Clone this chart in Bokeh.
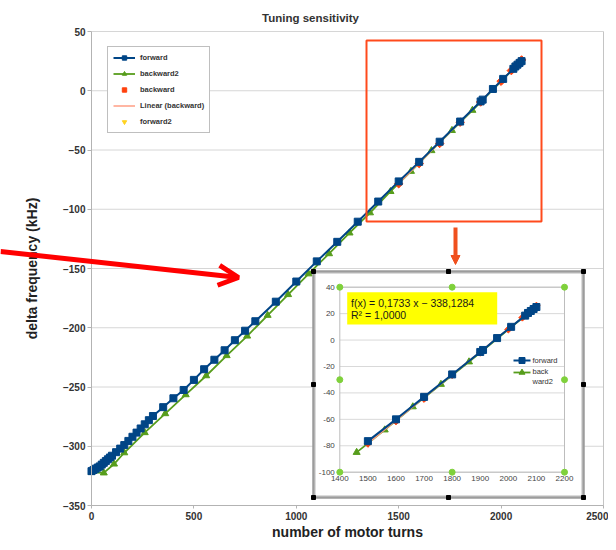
import numpy as np
from bokeh.plotting import figure
from bokeh.models import (Range1d, Legend, LegendItem, Arrow, OpenHead, Label,
                          NormalHead, BoxAnnotation, FixedTicker)
from bokeh.core.properties import value
from bokeh.embed import file_html
from bokeh.resources import INLINE

# ---------------- data ----------------
forward_x = [0, 10, 20, 30, 40, 50, 60, 70, 80, 90, 100, 120, 140, 160, 180, 200, 220, 240, 260, 280, 300,
             350, 400, 450, 500, 550, 600, 650, 700, 750, 800, 900, 1000, 1100, 1200, 1300, 1400,
             1500, 1600, 1700, 1800, 1900, 1910, 1960, 2010, 2060, 2070, 2080, 2090, 2100]
forward_y = [-321, -320, -319, -318, -317, -315.5, -314, -312.5, -311, -309.5, -308, -305, -302, -299, -295.5,
             -292, -288.5, -285, -281.5, -278, -274.5,
             -267, -259.5, -252.5, -244, -235, -227, -219, -210.5, -202.5, -194.5, -178, -161, -144, -127.5,
             -110.5, -93.5,
             -76.5, -60, -43, -26, -9, -7.5, 1.5, 10, 18.5, 20.5, 22, 23.5, 25]

backward2_x = [0, 60, 110, 160, 260, 360, 460, 560, 660, 760, 860, 960, 1060, 1160, 1260, 1360, 1460,
               1560, 1660, 1760, 1860, 1960, 2060]
backward2_y = [-322, -322.5, -315, -305.5, -288.5, -272.5, -256.5, -240.5, -223.5, -207, -189.5, -172,
               -154.5, -137.5, -120, -103, -85, -68, -50.5, -33.5, -16.5, 1, 18.5]

backward_x = [1500, 1600, 1700, 1800, 1900, 2000, 2050, 2100]
backward_y = [-78.5, -61.5, -44.5, -26.5, -9.5, 8, 17, 26]

# hidden beneath the forward markers
forward2_x = [2070, 2080, 2090]
forward2_y = [20.5, 22, 23.5]

fit_slope = 0.1733
fit_intercept = -338.1284
fit_text = ["f(x) = 0,1733 x \u2212 338,1284", "R\u00b2 = 1,0000"]

x_ticks = [0, 500, 1000, 1500, 2000, 2500]
y_ticks = [-350, -300, -250, -200, -150, -100, -50, 0, 50]
inset_x_ticks = [1400, 1500, 1600, 1700, 1800, 1900, 2000, 2100, 2200]
inset_y_ticks = [-100, -80, -60, -40, -20, 0, 20, 40]
inset_min_x = 1450

# ---------------- colours / fonts ----------------
BLUE = "#004586"
GREEN = "#579d1c"
RED = "#ff420e"
YELLOW = "#ffd320"
SALMON = "#ff9e85"
FONT = "Liberation Sans"

# ---------------- layout (pixels of the figure) ----------------
W, H = 608, 542
AX_L, AX_R, AX_T, AX_B = 91, 603, 31, 505           # where the data axes sit
X0, X1, Y0, Y1 = 0, 2500, -350, 50
IN_L, IN_R, IN_T, IN_B = 339.3, 564.0, 286.7, 471.7  # inset plot area
IX0, IX1, IY0, IY1 = 1400, 2200, -100, 40
BOX_L, BOX_R, BOX_T, BOX_B = 313, 583, 271, 497       # inset frame

kx = (AX_R - AX_L) / (X1 - X0)
ky = (AX_B - AX_T) / (Y1 - Y0)


def sx(px):
    return X0 + (px - AX_L) / kx


def sy(py):
    return Y1 - (py - AX_T) / ky


# the frame covers the whole canvas; axes are pinned at the data origin lines
ikx = (IN_R - IN_L) / (IX1 - IX0)
iky = (IN_B - IN_T) / (IY1 - IY0)
ix_start = IX0 - IN_L / ikx
ix_end = ix_start + W / ikx
iy_start = IY0 - (H - IN_B) / iky
iy_end = iy_start + H / iky

p = figure(width=W, height=H, x_range=Range1d(sx(0), sx(W)), y_range=Range1d(sy(H), sy(0)),
           output_backend="svg", toolbar_location=None,
           min_border_left=0, min_border_right=0, min_border_top=0, min_border_bottom=0)
p.extra_x_ranges = {"ix": Range1d(ix_start, ix_end)}
p.extra_y_ranges = {"iy": Range1d(iy_start, iy_end)}

p.background_fill_color = "white"
p.border_fill_color = "white"
p.outline_line_color = None
p.xgrid.visible = False
p.ygrid.visible = False

for ax in (p.xaxis[0], p.yaxis[0]):
    ax.axis_line_color = "#b3b3b3"
    ax.major_tick_line_color = "#b3b3b3"
    ax.minor_tick_line_color = None
    ax.major_tick_in = 0
    ax.major_label_text_font = FONT
    ax.major_label_text_font_size = "10px"
    ax.major_label_text_font_style = "bold"
    ax.major_label_text_color = "#333333"
    ax.axis_label_text_font = FONT
    ax.axis_label_text_font_size = "14px"
    ax.axis_label_text_font_style = "bold"
    ax.axis_label_text_color = "#222222"

p.xaxis[0].ticker = FixedTicker(ticks=x_ticks)
p.xaxis[0].bounds = (X0, X1)
p.xaxis[0].fixed_location = Y0
p.yaxis[0].ticker = FixedTicker(ticks=y_ticks)
p.yaxis[0].bounds = (Y0, Y1)
p.yaxis[0].fixed_location = X0
p.xaxis[0].axis_label = "number of motor turns"
p.yaxis[0].axis_label = "delta frequency (kHz)"
p.xaxis[0].major_tick_out = 3
p.xaxis[0].major_label_standoff = 3
p.xaxis[0].axis_label_standoff = 1
p.yaxis[0].major_tick_out = 4
p.yaxis[0].major_label_standoff = 2
p.yaxis[0].axis_label_standoff = 20

# grid lines and the right border of the plot area
p.segment(x0=[X0] * len(y_ticks), x1=[X1] * len(y_ticks), y0=y_ticks, y1=y_ticks,
          line_color="#d6d6d6", line_width=1)
p.segment(x0=[X1], x1=[X1], y0=[Y0], y1=[Y1], line_color="#c4c4c4", line_width=1)

# ---------------- main series ----------------
b2_line = p.line(backward2_x, backward2_y, line_color=GREEN, line_width=1.8)
b2_pts = p.scatter(backward2_x, backward2_y, marker="triangle", size=7, fill_color=GREEN, line_color=GREEN)
bw_pts = p.scatter(backward_x, backward_y, marker="square", angle=np.pi / 4, size=6,
                   fill_color=RED, line_color=RED)
trend_x = [min(backward_x), max(backward_x)]
trend_y = [fit_slope * v + fit_intercept for v in trend_x]
tr_line = p.line(trend_x, trend_y, line_color=SALMON, line_width=1.5)
f2_pts = p.scatter(forward2_x, forward2_y, marker="inverted_triangle", size=7,
                   fill_color=YELLOW, line_color=YELLOW)
fw_line = p.line(forward_x, forward_y, line_color=BLUE, line_width=2)
fw_pts = p.scatter(forward_x, forward_y, marker="square", size=7, fill_color=BLUE, line_color=BLUE)

legend = Legend(items=[
    LegendItem(label="forward", renderers=[fw_line, fw_pts]),
    LegendItem(label="backward2", renderers=[b2_line, b2_pts]),
    LegendItem(label="backward", renderers=[bw_pts]),
    LegendItem(label="Linear (backward)", renderers=[tr_line]),
    LegendItem(label="forward2", renderers=[f2_pts]),
], location=(107, H - 133))
legend.border_line_color = "#808080"
legend.border_line_width = 1
legend.background_fill_color = "white"
legend.background_fill_alpha = 1
legend.label_text_font = FONT
legend.label_text_font_size = "7.5px"
legend.label_text_font_style = "bold"
legend.label_text_color = "#333333"
legend.glyph_width = 22
legend.glyph_height = 11
legend.label_height = 11
legend.spacing = 5
legend.padding = 5
legend.margin = 0
legend.label_standoff = 5
p.add_layout(legend)

# ---------------- inset chart ----------------
R = dict(x_range_name="ix", y_range_name="iy")

p.quad(left=[sx(BOX_L)], right=[sx(BOX_R)], top=[sy(BOX_T)], bottom=[sy(BOX_B)],
       fill_color="white", line_color="#9c9c9c", line_width=2.5)
p.quad(left=[sx(BOX_L + 2)], right=[sx(BOX_R - 2)], top=[sy(BOX_T + 2)], bottom=[sy(BOX_B - 2)],
       fill_color=None, line_color="#dcdcdc", line_width=1)

p.segment(x0=[IX0] * len(inset_y_ticks), x1=[IX1] * len(inset_y_ticks),
          y0=inset_y_ticks, y1=inset_y_ticks, line_color="#d9d9d9", line_width=1, **R)
p.quad(left=[IX0], right=[IX1], top=[IY1], bottom=[IY0], fill_color=None,
       line_color="#bdbdbd", line_width=1, **R)

p.text(x=[IX0] * len(inset_y_ticks), y=inset_y_ticks, text=[str(t) for t in inset_y_ticks],
       x_offset=-5, text_align="right", text_baseline="middle", text_font=value(FONT),
       text_font_size="8px", text_color="#444444", **R)
p.text(x=inset_x_ticks, y=[IY0] * len(inset_x_ticks), text=[str(t) for t in inset_x_ticks],
       y_offset=4, text_align="center", text_baseline="top", text_font=value(FONT),
       text_font_size="8px", text_color="#444444", **R)


def part(xs, ys):
    keep = [i for i, v in enumerate(xs) if v >= inset_min_x]
    return [xs[i] for i in keep], [ys[i] for i in keep]


ib2x, ib2y = part(backward2_x, backward2_y)
ibwx, ibwy = part(backward_x, backward_y)
ifwx, ifwy = part(forward_x, forward_y)

p.line(ib2x, ib2y, line_color=GREEN, line_width=1.8, **R)
p.scatter(ib2x, ib2y, marker="triangle", size=7, fill_color=GREEN, line_color=GREEN, **R)
p.scatter(ibwx, ibwy, marker="square", angle=np.pi / 4, size=5, fill_color=RED, line_color=RED, **R)
p.line(trend_x, trend_y, line_color=SALMON, line_width=1.5, **R)
p.line(ifwx, ifwy, line_color=BLUE, line_width=2, **R)
p.scatter(ifwx, ifwy, marker="square", size=7, fill_color=BLUE, line_color=BLUE, **R)

# equation box
p.quad(left=[sx(346.7)], right=[sx(496.7)], top=[sy(291.7)], bottom=[sy(324)],
       fill_color="#ffff00", line_color=None)
p.text(x=[sx(350.5)] * 2, y=[sy(302.5), sy(314.5)], text=fit_text, text_align="left",
       text_baseline="middle", text_font=value(FONT), text_font_size="10.5px", text_color="#1a1a1a")

# inset legend
p.segment(x0=[sx(513)], x1=[sx(530)], y0=[sy(360)], y1=[sy(360)], line_color=BLUE, line_width=2)
p.scatter([sx(521.5)], [sy(360)], marker="square", size=6, fill_color=BLUE, line_color=BLUE)
p.segment(x0=[sx(513)], x1=[sx(530)], y0=[sy(372)], y1=[sy(372)], line_color=GREEN, line_width=1.8)
p.scatter([sx(521.5)], [sy(372)], marker="triangle", size=6, fill_color=GREEN, line_color=GREEN)
p.text(x=[sx(532)] * 3, y=[sy(360), sy(371), sy(380.5)], text=["forward", "back", "ward2"],
       text_align="left", text_baseline="middle", text_font=value(FONT), text_font_size="7.5px",
       text_color="#333333")

# selection handles
gx = [IX0, (IX0 + IX1) / 2, IX1, IX0, IX1, IX0, (IX0 + IX1) / 2, IX1]
gy = [IY1, IY1, IY1, (IY0 + IY1) / 2, (IY0 + IY1) / 2, IY0, IY0, IY0]
p.scatter(gx, gy, marker="circle", size=6, fill_color="#7fd13b", line_color="#7fd13b", **R)
bx = [BOX_L, (BOX_L + BOX_R) / 2, BOX_R, BOX_L, BOX_R, BOX_L, (BOX_L + BOX_R) / 2, BOX_R]
by = [BOX_T, BOX_T, BOX_T, (BOX_T + BOX_B) / 2, (BOX_T + BOX_B) / 2, BOX_B, BOX_B, BOX_B]
p.scatter([sx(v) for v in bx], [sy(v) for v in by], marker="square", size=4,
          fill_color="black", line_color="black")

# ---------------- annotations ----------------
p.add_layout(Label(x=sx(310), y=sy(17), text="Tuning sensitivity", text_align="center",
                   text_baseline="middle", text_font=FONT, text_font_size="11.5px",
                   text_font_style="bold", text_color="#333333"))
p.add_layout(BoxAnnotation(left=sx(366), right=sx(541), top=sy(40), bottom=sy(221),
                           fill_color=None, fill_alpha=0, line_color="#ff4a1c",
                           line_alpha=1, line_width=2))
p.add_layout(Arrow(x_start=sx(455), y_start=sy(227), x_end=sx(455), y_end=sy(264),
                   line_color="#f0501e", line_width=4,
                   end=NormalHead(size=9, fill_color="#f0501e", line_color="#f0501e")))
p.add_layout(Arrow(x_start=sx(0), y_start=sy(251), x_end=sx(238), y_end=sy(277),
                   line_color="#ff0000", line_width=5,
                   end=OpenHead(size=20, line_color="#ff0000", line_width=5)))

open("out.html", "w").write(file_html(p, INLINE))
